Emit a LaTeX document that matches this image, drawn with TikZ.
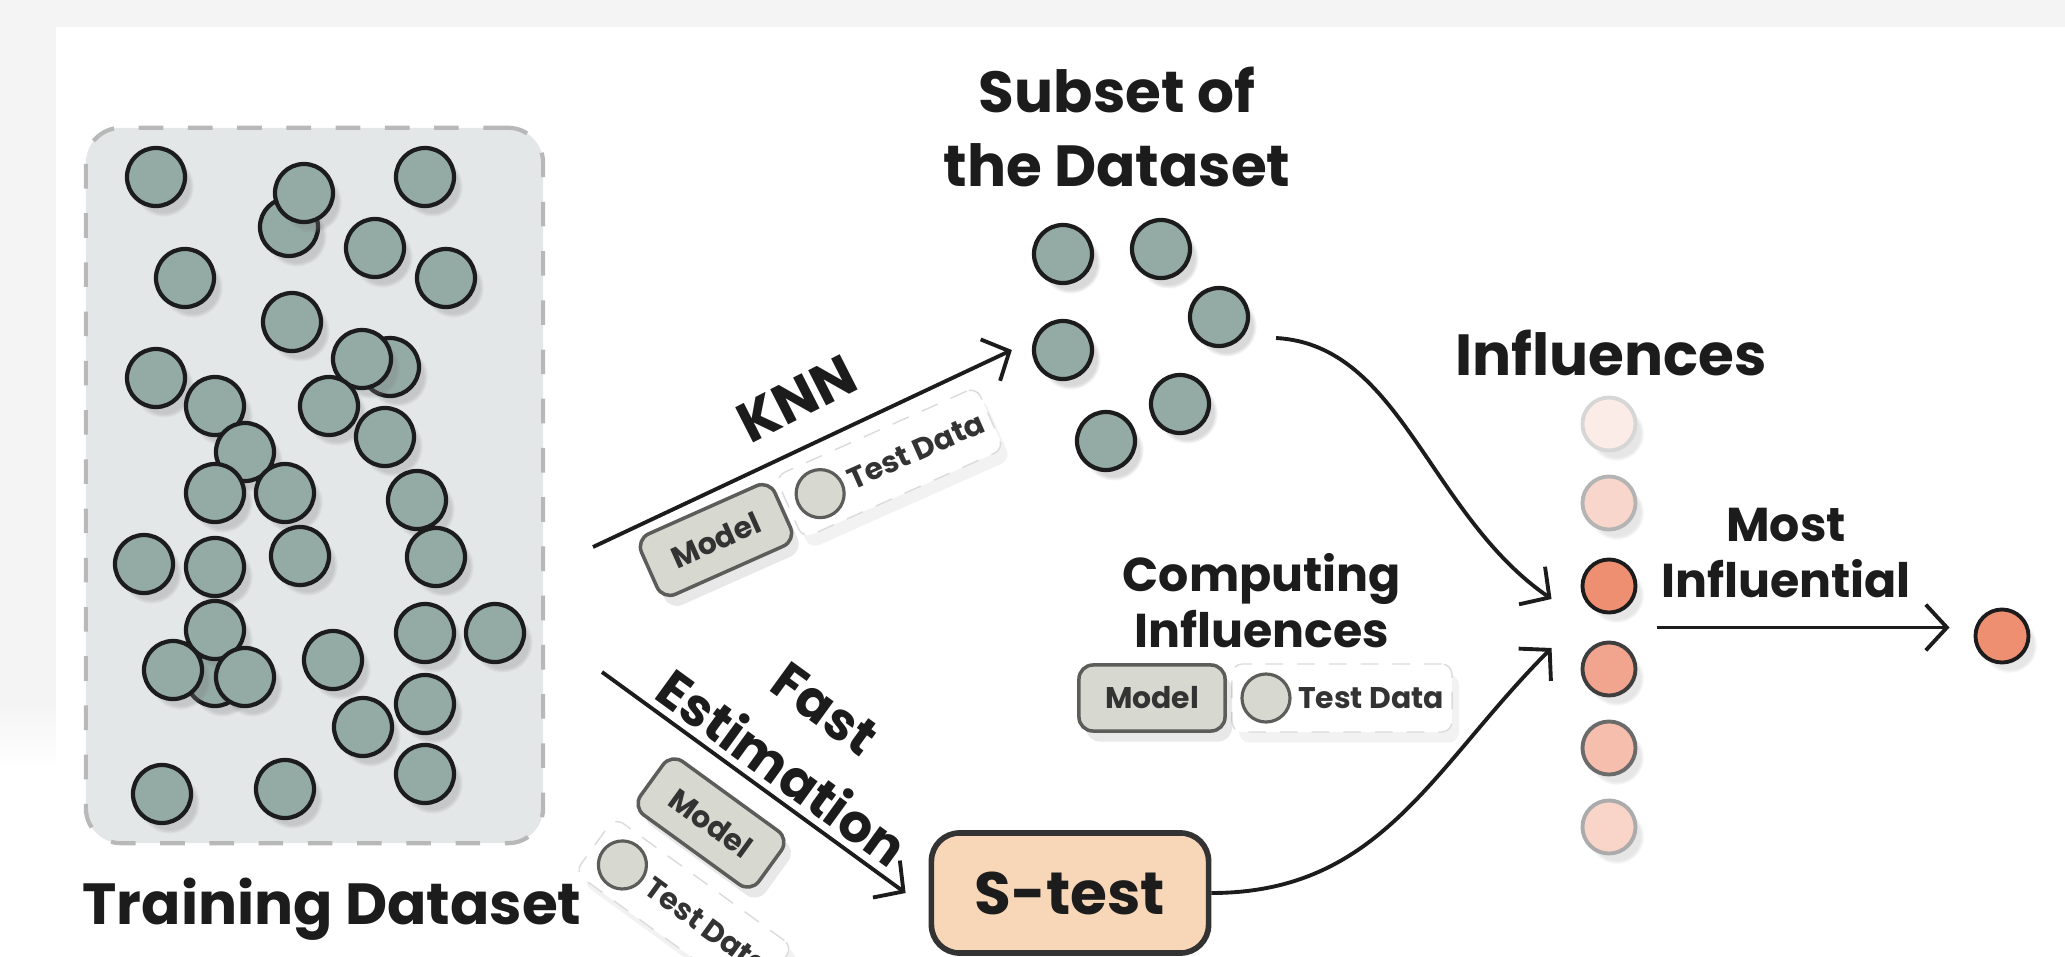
\documentclass[tikz,border=0pt]{standalone}
\usepackage{fontspec}
\setmainfont{Poppins}
\usetikzlibrary{arrows.meta, positioning, calc, shadows}

\definecolor{bggray}{HTML}{F4F4F4}
\definecolor{boxgray}{HTML}{E4E7E8}
\definecolor{dotfill}{HTML}{93AAA5}
\definecolor{ink}{HTML}{1C1C1C}
\definecolor{badgefill}{HTML}{D7D8D0}
\definecolor{badgeline}{HTML}{5C5C5A}
\definecolor{peach}{HTML}{F7D7B8}
\definecolor{salmon}{HTML}{EE8F72}

\tikzset{
  datadot/.style={circle, inner sep=0pt, minimum size=0.58cm, fill=dotfill, draw=ink, line width=1.2pt,
    circular drop shadow={shadow xshift=2pt, shadow yshift=-2.5pt, opacity=0.3, shadow scale=1.05}},
  infdot/.style={circle, inner sep=0pt, minimum size=0.53cm, line width=1.1pt,
    circular drop shadow={shadow xshift=2pt, shadow yshift=-2.5pt, opacity=0.2, shadow scale=1.05}},
  trainbox/.style={draw=black!28, dash pattern=on 7pt off 7pt, line width=1.2pt, fill=boxgray,
    rounded corners=10pt, minimum width=4.57cm, minimum height=7.15cm},
  title/.style={font=\fontsize{16.5}{21}\selectfont\bfseries, text=ink, align=center},
  steplabel/.style={font=\fontsize{15}{21}\selectfont\bfseries, text=ink, align=center},
  midtitle/.style={font=\fontsize{13.5}{16}\selectfont\bfseries, text=ink, align=center},
  flow/.style={draw=ink, line width=1.1pt, -{Straight Barb[length=6pt,width=13pt]}},
  modelbox/.style={draw=badgeline, fill=badgefill, line width=1pt, rounded corners=4pt,
    minimum width=1.46cm, minimum height=0.66cm, inner sep=0pt,
    font=\fontsize{8.5}{10}\selectfont\bfseries, text=black!80,
    drop shadow={opacity=0.18, shadow xshift=2pt, shadow yshift=-3pt}},
  testdot/.style={circle, draw=badgeline, fill=badgefill, line width=0.9pt, minimum size=0.48cm, inner sep=0pt},
  testtext/.style={font=\fontsize{8.5}{10}\selectfont\bfseries, text=black!80, inner sep=0pt},
  testframe/.style={draw=black!14, dash pattern=on 5pt off 4pt, fill=white, rounded corners=3pt,
    minimum width=2.2cm, minimum height=0.68cm, inner sep=0pt,
    drop shadow={opacity=0.1, shadow xshift=2pt, shadow yshift=-3pt}},
  stestbox/.style={draw=black!80, fill=peach, line width=1.6pt, rounded corners=8pt,
    minimum width=2.77cm, minimum height=1.2cm, font=\fontsize{17}{20}\selectfont\bfseries, text=ink}
}

\begin{document}
\begin{tikzpicture}[x=0.01cm, y=-0.01cm]
\useasboundingbox (0,0) rectangle (2065,957);
% page margins
\fill[bggray] (0,0) rectangle (2065,27);
\fill[bggray] (0,27) rectangle (56,700);
\shade[top color=bggray, bottom color=white] (0,700) rectangle (56,770);

% training set
\node[trainbox] (train) at (314.5,485.5) {};
\foreach \x/\y [count=\k] in {156/177, 289/227, 304/193, 425/177, 375/248, 446/278, 185/278,
    292/322, 156/378, 390/367, 362/359, 329/406, 385/437, 215/406, 245/452, 215/493, 285/493,
    417/500, 144/564, 215/567, 300/556, 436/557, 215/677, 215/630, 173/670, 245/677, 333/660,
    425/633, 495/633, 425/704, 363/727, 425/774, 162/794, 285/789}
  \node[datadot] (t\k) at (\x,\y) {};
\node[title, anchor=base] (traintitle) at (332,924) {Training Dataset};

% subset picked by KNN
\node[title] (subtitle) at (1117,127) {Subset of\\the Dataset};
\foreach \x/\y [count=\k] in {1063/254, 1161/249, 1219/317, 1063/350, 1180/404, 1106/441}
  \node[datadot] (sub\k) at (\x,\y) {};

% KNN branch
\coordinate (knnfrom) at (593,547);
\draw[flow] (knnfrom) -- ([xshift=-0.2cm]sub4.west);
\node[steplabel, font=\fontsize{16}{21}\selectfont\bfseries, rotate=27] (knn) at (797,399) {KNN};
\begin{scope}[shift={(716,540)}, rotate=24, transform shape]
\node[testframe] (kframe) at (190,0) {};
\node[modelbox] (kmodel) at (0,0) {Model};
\node[testdot] (ktest) at (114,0) {};
\node[testtext] (kdata) at (219,0) {Test Data};
\end{scope}

% fast estimation branch
\node[stestbox] (stest) at (1070,893) {S-test};
\coordinate (fastfrom) at (602,672);
\draw[flow] (fastfrom) -- ([xshift=-0.23cm]stest.west);
\node[steplabel, rotate=-36] (fastest) at (803,739) {Fast\\Estimation};
\begin{scope}[shift={(711,823)}, rotate=-36, transform shape]
\node[testframe] (fframe) at (29,86) {};
\node[modelbox] (fmodel) at (0,0) {Model};
\node[testdot] (ftest) at (-47,86) {};
\node[testtext] (fdata) at (58,86) {Test Data};
\end{scope}

% computing influences
\node[midtitle] (comptitle) at (1262,601) {Computing\\Influences};
\begin{scope}[shift={(1152,698)}]
\node[testframe] (cframe) at (190,0) {};
\node[modelbox] (cmodel) at (0,0) {Model};
\node[testdot] (ctest) at (114,0) {};
\node[testtext] (cdata) at (219,0) {Test Data};
\end{scope}

% influence column
\node[title, anchor=base] (inftitle) at (1611,375) {Influences};
\foreach \i/\p/\q/\y in {1/17/18/424, 2/37/33/503, 3/100/100/586, 4/80/85/669, 5/58/65/748, 6/38/37/827}
  \node[infdot, fill=salmon!\p, draw=ink!\q] (inf\i) at (1609,\y) {};
\node[infdot, fill=salmon, draw=ink] (best) at (2002,636) {};
\node[midtitle] (mosttitle) at (1786,553) {Most\\Influential};

% arrows into and out of the column
\draw[flow] ([shift={(26,21)}]sub3.east) .. controls +(125,7) and +(-123,-85) .. ([shift={(-29,13)}]inf3.west);
\draw[flow] (stest.east) .. controls +(170,0) and +(-119,119) .. ([shift={(-29,-21)}]inf4.west);
\coordinate (fork) at ($(inf3)!0.5!(inf4)$);
\draw[flow] ([xshift=0.48cm]fork) -- ([xshift=-0.24cm]fork -| best.west);
\end{tikzpicture}
\end{document}
